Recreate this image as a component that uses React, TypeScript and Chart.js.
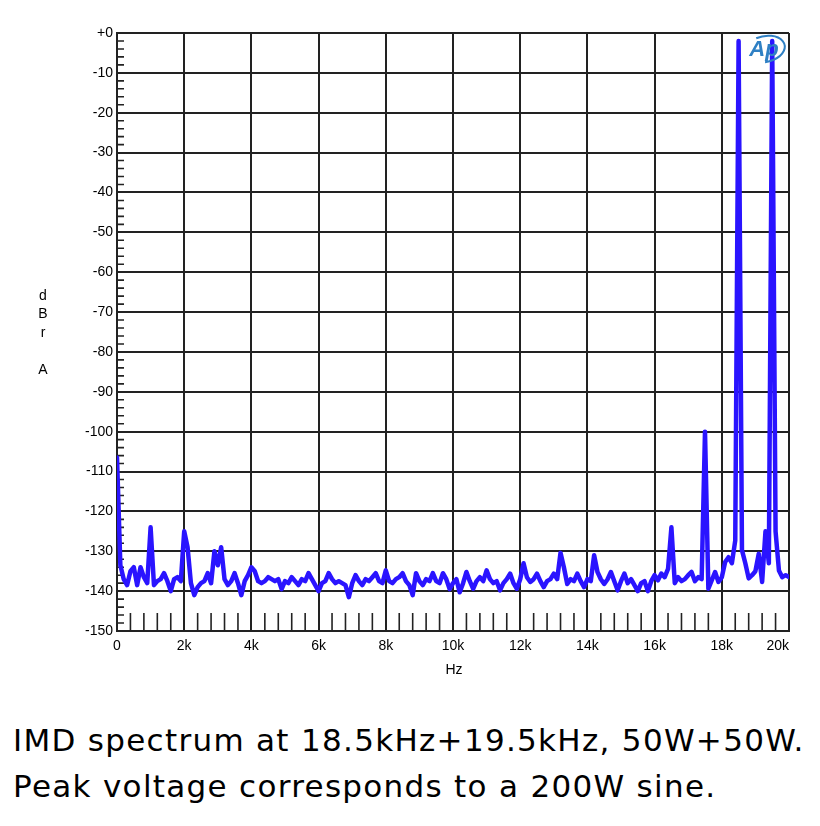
import { useEffect, useRef } from 'react';
import { Chart, registerables } from 'chart.js';
Chart.register(...registerables);

// spectrum, one value per 100 Hz bin, 0 .. 20 kHz
const BIN_HZ = 100;
const LEVEL_DBR = [
  -106.5, -133.5, -137, -138.5, -135, -134, -138.5, -134, -136.5, -138,
  -124, -138.5, -137.5, -137, -135.5, -137.5, -140, -137, -136.5, -137.5,
  -125, -129, -138, -141, -139, -138, -137.5, -135.5, -138, -130,
  -133.5, -129, -137, -138.5, -137.5, -135.5, -138, -141, -137.5, -136,
  -134, -135, -137.5, -138, -137.5, -136.5, -137, -137.5, -137, -139.5,
  -137.5, -138, -136.5, -137.5, -138.5, -137, -137.5, -135.5, -137, -138.5,
  -140, -138, -137.5, -135.5, -137, -138, -137.5, -138, -138.5, -141.5,
  -138, -136, -137.5, -138.5, -137, -137.5, -136.5, -135.5, -137.5, -138,
  -134.8, -137.5, -138, -137, -136.5, -135.5, -137.5, -138.5, -141, -135.5,
  -137.5, -138.5, -137, -137.5, -135.5, -137.5, -138, -135.5, -137, -139.5,
  -138, -137, -140.3, -138, -135.2, -137.5, -139.4, -137.5, -136.5, -137.5,
  -134.8, -137, -138, -137.5, -139.8, -138, -137, -135.6, -138, -139.4,
  -137, -133, -136.5, -137.7, -137, -135.6, -137.5, -139, -137.5, -137,
  -135.6, -137, -130.4, -134, -138.2, -137, -137.5, -135.6, -137.5, -139,
  -137, -137.5, -131, -135.2, -137, -138.2, -137, -135.2, -137.5, -139.8,
  -137.5, -135.6, -138, -137, -138.5, -140, -138, -137.5, -140, -137.5,
  -136, -137.3, -135.6, -136.5, -134.4, -124, -138, -136.5, -137.5, -137,
  -136, -135.2, -137.5, -136.5, -137, -100, -139.4, -137.3, -135.2, -137.7,
  -136.5, -132.7, -131.5, -133, -127.3, -2, -129.7, -133, -136.8, -136,
  -135, -130.6, -137.7, -125, -133, -2, -125, -134.8, -136.5, -136,
  -136.5,
];

const X_TICKS = [0, 2000, 4000, 6000, 8000, 10000, 12000, 14000, 16000, 18000, 20000];
const X_LABELS = ['0', '2k', '4k', '6k', '8k', '10k', '12k', '14k', '16k', '18k', '20k'];
const Y_LETTERS = ['d', 'B', 'r', '', 'A'];
const CAPTION = [
  'IMD spectrum at 18.5kHz+19.5kHz, 50W+50W.',
  'Peak voltage corresponds to a 200W sine.',
];

const INK = '#222';
const TRACE = '#2a14ff';
const LABEL_FONT = '14px "Liberation Sans", Arial, sans-serif';

const decor = {
  id: 'decor',
  beforeDatasetsDraw(chart: Chart) {
    const { ctx, chartArea: a, scales } = chart;
    const x = scales.x, y = scales.y;
    ctx.save();
    ctx.strokeStyle = INK;
    ctx.lineWidth = 1.6;
    ctx.beginPath();
    // minor ticks, 2 dB on the left, 400 Hz along the bottom
    for (let v = -148; v < 0; v += 2) {
      if (v % 10 === 0) continue;
      const py = y.getPixelForValue(v);
      ctx.moveTo(a.left, py);
      ctx.lineTo(a.left + 7, py);
    }
    for (let f = 400; f < 20000; f += 400) {
      if (f % 2000 === 0) continue;
      const px = x.getPixelForValue(f);
      ctx.moveTo(px, a.bottom);
      ctx.lineTo(px, a.bottom - 18);
    }
    ctx.stroke();
    ctx.restore();
  },
  afterDraw(chart: Chart) {
    const { ctx, chartArea: a, scales } = chart;
    const x = scales.x;
    ctx.save();
    ctx.fillStyle = '#000';
    ctx.font = LABEL_FONT;
    ctx.textBaseline = 'top';
    X_TICKS.forEach((f, i) => {
      const last = i === X_TICKS.length - 1;
      ctx.textAlign = last ? 'right' : 'center';
      ctx.fillText(X_LABELS[i], x.getPixelForValue(f), a.bottom + 8);
    });
    ctx.textAlign = 'center';
    ctx.fillText('Hz', (a.left + a.right) / 2 + 1, a.bottom + 32);
    ctx.textBaseline = 'middle';
    Y_LETTERS.forEach((c, i) => ctx.fillText(c, 43, 296 + i * 18.5));

    // Ap logo
    ctx.fillStyle = '#2f80c4';
    ctx.font = 'italic bold 22px "Liberation Sans", Arial, sans-serif';
    ctx.fillText('Ap', 764, 50);
    ctx.strokeStyle = '#2f80c4';
    ctx.lineWidth = 2;
    ctx.beginPath();
    ctx.ellipse(765, 49, 20, 13, -0.2, -1.9, 1.7);
    ctx.stroke();
    ctx.restore();
  },
};

export default function App() {
  const canvasRef = useRef<HTMLCanvasElement>(null);

  useEffect(() => {
    document.body.style.margin = '0';
    if (!canvasRef.current) return;
    const chart = new Chart(canvasRef.current, {
      type: 'line',
      data: {
        datasets: [{
          data: LEVEL_DBR.map((v, i) => ({ x: i * BIN_HZ, y: v })),
          borderColor: TRACE,
          borderWidth: 4.5,
          borderJoinStyle: 'round',
          borderCapStyle: 'round',
          pointRadius: 0,
          tension: 0,
          fill: false,
        }],
      },
      options: {
        animation: false,
        responsive: false,
        devicePixelRatio: 1,
        layout: { padding: { top: 33, right: 31, left: 0, bottom: 0 } },
        plugins: { legend: { display: false }, tooltip: { enabled: false } },
        scales: {
          x: {
            type: 'linear',
            min: 0,
            max: 20000,
            afterFit: (s: any) => { s.height = 69; },
            afterBuildTicks: (s: any) => { s.ticks = X_TICKS.map(v => ({ value: v })); },
            ticks: { display: false },
            grid: { color: INK, lineWidth: 2, drawTicks: false },
            border: { color: INK, width: 2 },
          },
          y: {
            min: -150,
            max: 0,
            afterFit: (s: any) => { s.width = 117; },
            ticks: {
              stepSize: 10,
              padding: 4,
              color: '#000',
              font: { family: '"Liberation Sans", Arial, sans-serif', size: 14 },
              callback: (v: any) => (v === 0 ? '+0' : String(v)),
            },
            grid: { color: INK, lineWidth: 2, drawTicks: false },
            border: { color: INK, width: 2 },
          },
        },
      },
      plugins: [decor],
    });
    return () => chart.destroy();
  }, []);

  return (
    <div style={{ position: 'relative', width: 820, height: 826, background: '#fff' }}>
      <canvas ref={canvasRef} width={820} height={700} style={{ display: 'block' }} />
      <div style={{
        position: 'absolute', left: 13, top: 717,
        fontFamily: '"DejaVu Sans", sans-serif', fontSize: 31, lineHeight: '46px',
        letterSpacing: '1.3px', color: '#000', whiteSpace: 'nowrap',
      }}>
        {CAPTION.map(l => <div key={l}>{l}</div>)}
      </div>
    </div>
  );
}
